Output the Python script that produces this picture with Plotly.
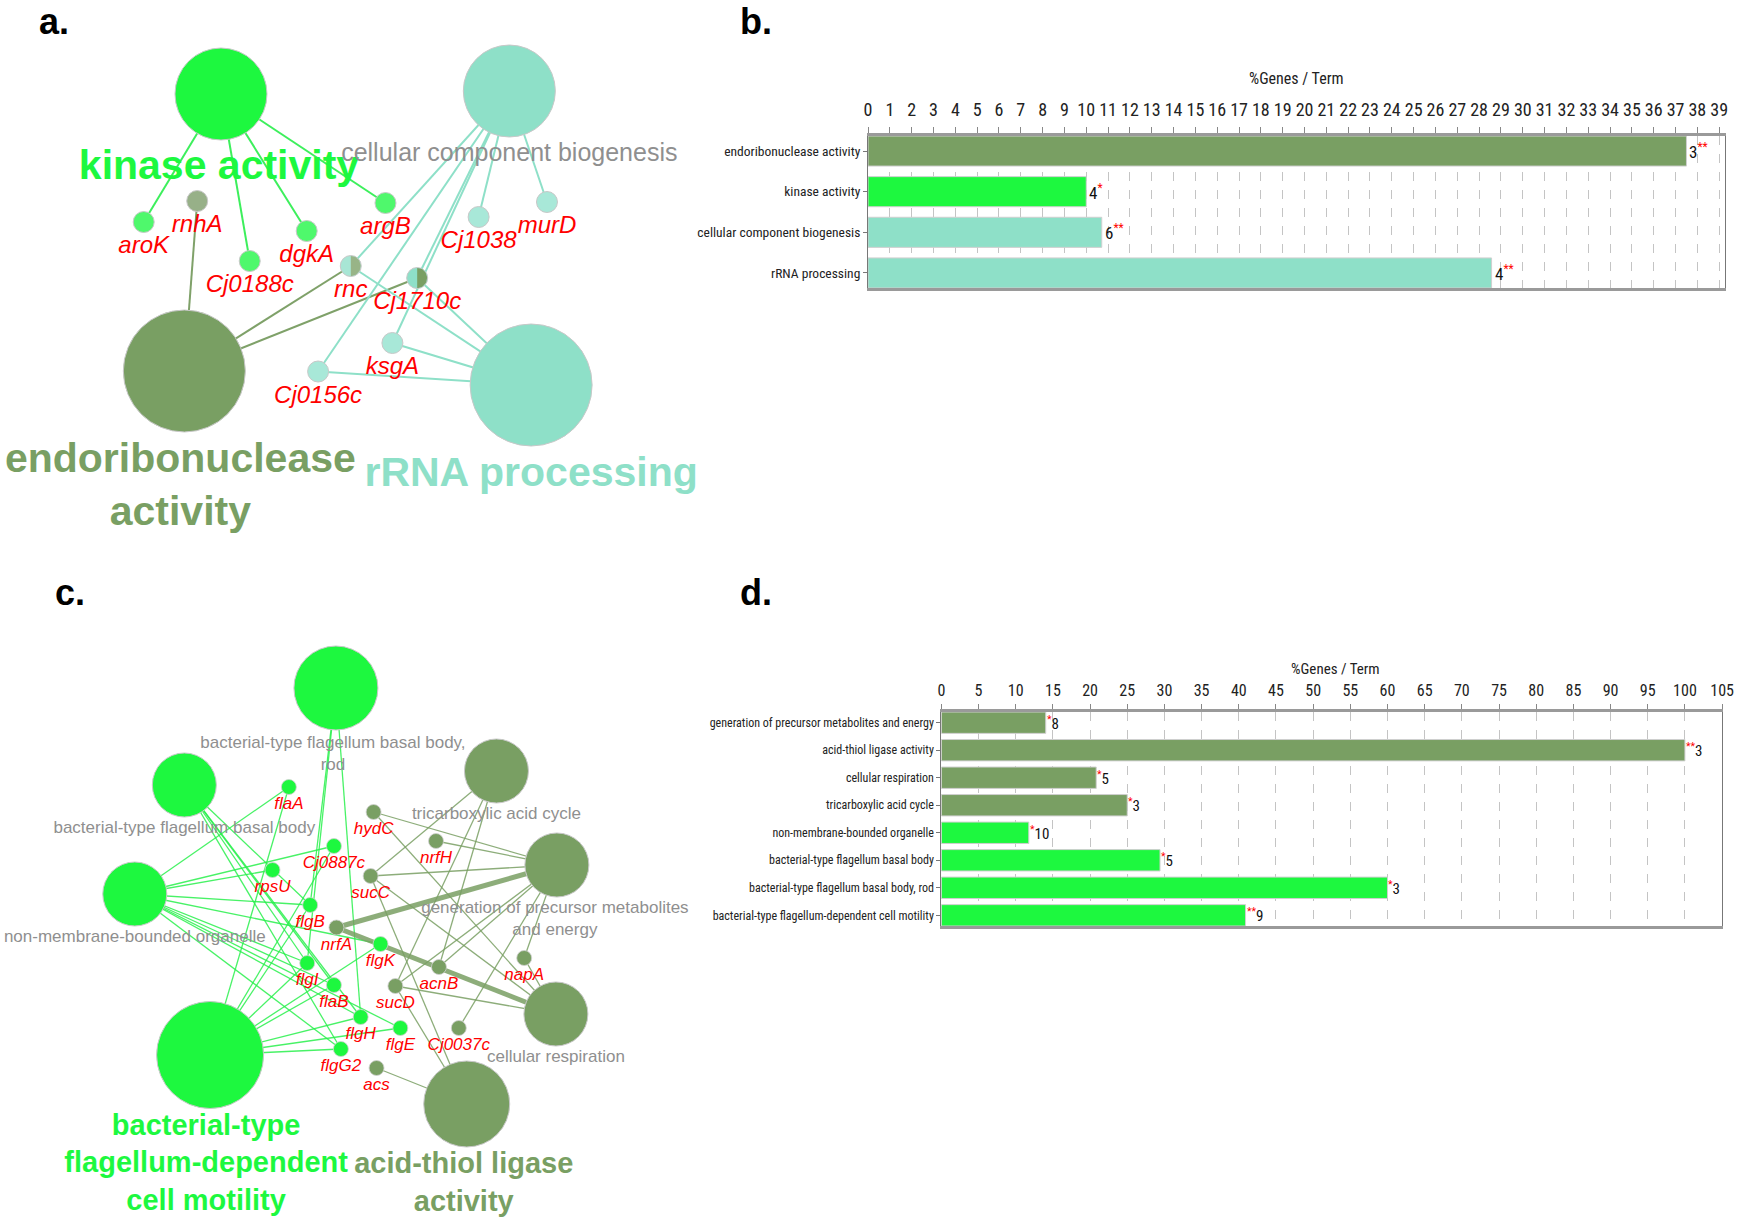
import math
import plotly.graph_objects as go

W, H = 1747, 1219

# ===================== DATA =====================
# ---- panel a : network ----
a_terms = ["kinase activity", "cellular component biogenesis",
           "endoribonuclease activity", "rRNA processing"]
a_term_group = ["green", "aqua", "olive", "aqua"]
a_term_text = ["kinase activity", "cellular component biogenesis",
               "endoribonuclease<br>activity", "rRNA processing"]
a_term_lead = [True, False, True, True]
a_genes = ["aroK", "rnhA", "Cj0188c", "dgkA", "argB", "rnc", "Cj1710c",
           "Cj1038", "murD", "ksgA", "Cj0156c"]
a_links = {
    "kinase activity": ["aroK", "Cj0188c", "dgkA", "argB"],
    "endoribonuclease activity": ["rnhA", "rnc", "Cj1710c"],
    "cellular component biogenesis": ["rnc", "Cj1710c", "Cj1038", "murD", "ksgA", "Cj0156c"],
    "rRNA processing": ["rnc", "Cj1710c", "ksgA", "Cj0156c"],
}
# ---- panel b : bars ----
b_terms = ["endoribonuclease activity", "kinase activity",
           "cellular component biogenesis", "rRNA processing"]
b_pct = [37.5, 10.0, 10.71, 28.57]
b_genes = [3, 4, 6, 4]
b_stars = ["**", "*", "**", "**"]
b_group = ["olive", "green", "aqua", "aqua"]
b_ticks = list(range(0, 40))

# ---- panel c : network ----
c_terms = ["bacterial-type flagellum basal body, rod",
           "bacterial-type flagellum basal body",
           "non-membrane-bounded organelle",
           "bacterial-type flagellum-dependent cell motility",
           "tricarboxylic acid cycle",
           "generation of precursor metabolites and energy",
           "cellular respiration",
           "acid-thiol ligase activity"]
c_term_group = ["green", "green", "green", "green", "olive", "olive", "olive", "olive"]
c_term_text = ["bacterial-type flagellum basal body,<br>rod",
               "bacterial-type flagellum basal body",
               "non-membrane-bounded organelle",
               "bacterial-type<br>flagellum-dependent<br>cell motility",
               "tricarboxylic acid cycle",
               "generation of precursor metabolites<br>and energy",
               "cellular respiration",
               "acid-thiol ligase<br>activity"]
c_term_lead = [False, False, False, True, False, False, False, True]
c_genes = ["flaA", "hydC", "Cj0887c", "nrfH", "rpsU", "sucC", "flgB", "nrfA",
           "flgK", "flgI", "acnB", "napA", "flaB", "sucD", "flgH", "flgE",
           "Cj0037c", "flgG2", "acs"]
c_gene_group = ["green", "olive", "green", "olive", "green", "olive", "green", "olive",
                "green", "green", "olive", "olive", "green", "olive", "green", "green",
                "olive", "green", "olive"]
c_links = {
    "non-membrane-bounded organelle": ["flaA", "rpsU", "Cj0887c", "flgB", "flgK",
                                       "flgI", "flaB", "flgH", "flgE", "flgG2"],
    "bacterial-type flagellum basal body": ["flgB", "flgI", "flaB", "flgH", "flgG2"],
    "bacterial-type flagellum basal body, rod": ["flgB", "flgI", "flgH"],
    "bacterial-type flagellum-dependent cell motility": ["flaA", "Cj0887c", "flgB", "flgK",
                                                         "flgI", "flaB", "flgH", "flgE", "flgG2"],
    "tricarboxylic acid cycle": ["sucC", "acnB", "sucD"],
    "generation of precursor metabolites and energy": ["hydC", "nrfH", "sucC", "nrfA", "acnB",
                                                       "sucD", "napA", "Cj0037c"],
    "cellular respiration": ["hydC", "sucC", "nrfA", "sucD", "napA"],
    "acid-thiol ligase activity": ["sucC", "sucD", "acs"],
}
c_thick = {("generation of precursor metabolites and energy", "nrfA"),
           ("cellular respiration", "nrfA")}

# ---- panel d : bars ----
d_terms = ["generation of precursor metabolites and energy",
           "acid-thiol ligase activity",
           "cellular respiration",
           "tricarboxylic acid cycle",
           "non-membrane-bounded organelle",
           "bacterial-type flagellum basal body",
           "bacterial-type flagellum basal body, rod",
           "bacterial-type flagellum-dependent cell motility"]
d_pct = [14.04, 100.0, 20.83, 25.0, 11.76, 29.41, 60.0, 40.91]
d_genes = [8, 3, 5, 3, 10, 5, 3, 9]
d_stars = ["*", "**", "*", "*", "*", "*", "*", "**"]
d_group = ["olive", "olive", "olive", "olive", "green", "green", "green", "green"]
d_ticks = list(range(0, 110, 5))

# ===================== LAYOUT (pixel positions of network drawings) =====================
a_term_x = [219, 510, 182, 532]
a_term_y = [94, 91, 371, 385]
a_term_lx = [217, 510, 178, 532]
a_term_ly = [169, 155, 488, 476]
a_term_size = [92, 92, 122, 122]
a_gene_x = [141, 195, 248, 305.5, 385, 350, 417, 479, 548, 392, 317]
a_gene_y = [222, 201, 261, 231, 203, 266, 278, 217, 202, 343, 371.5]

c_term_x = [335, 182, 132, 208, 497, 558, 557, 467]
c_term_y = [688, 785, 894, 1055, 771, 865, 1014, 1104]
c_term_lx = [332, 182, 132, 204, 497, 556, 557, 464]
c_term_ly = [755, 829, 938, 1165, 815, 920, 1058, 1185]
c_term_size = [84, 64, 64, 107, 64, 64, 64, 86]
c_gene_x = [287.5, 373, 333, 436, 271, 370, 309, 335.5, 380, 306, 439, 525,
            333, 395, 360, 400, 459, 340, 376]
c_gene_y = [787, 812, 846, 841, 870, 876, 905, 927.5, 944, 963, 967, 958,
            985, 986, 1017, 1028, 1028, 1049, 1068]

# ===================== STYLE =====================
COL = {"green": "#1DF83F", "olive": "#799F63", "aqua": "#8EE0C8"}
A_EDGE = {"green": "#3DEF5C", "olive": "#7FA169", "aqua": "#8EE0C8"}
C_EDGE = {"green": "rgba(40,240,75,0.85)", "olive": "rgba(121,159,99,0.85)"}
A_GENE_FILL = {"aroK": ["#4FF86C"], "rnhA": ["#97B088"], "Cj0188c": ["#4FF86C"],
               "dgkA": ["#4FF86C"], "argB": ["#4FF86C"],
               "rnc": ["#A8E6D5", "#98B487"], "Cj1710c": ["#8EE0C8", "#799F63"],
               "Cj1038": ["#A8E8D8"], "murD": ["#A8E8D8"], "ksgA": ["#A8E8D8"],
               "Cj0156c": ["#A8E8D8"]}
FONT = "Liberation Sans, Arial, Helvetica, sans-serif"
NARROW = "Liberation Sans Narrow, Arial Narrow, Roboto Condensed, DejaVu Sans Condensed, Liberation Sans, sans-serif"
GRAY_TXT = "#8F8F8F"
RED = "#FF0000"

fig = go.Figure()


def add_edges(links, terms, tx, ty, tgroup, genes, gx, gy, colors, width, thick=(), thick_w=5):
    tpos = {t: (tx[i], ty[i], tgroup[i]) for i, t in enumerate(terms)}
    gpos = {g: (gx[i], gy[i]) for i, g in enumerate(genes)}
    groups = {}
    for term, glist in links.items():
        x0, y0, grp = tpos[term]
        for g in glist:
            w = thick_w if (term, g) in thick else width
            xs, ys = groups.setdefault((grp, w), ([], []))
            xs += [x0, gpos[g][0], None]
            ys += [y0, gpos[g][1], None]
    for (grp, w), (xs, ys) in groups.items():
        fig.add_trace(go.Scatter(x=xs, y=ys, mode="lines",
                                 line=dict(color=colors[grp], width=w),
                                 hoverinfo="skip", showlegend=False))


def add_term_nodes(tx, ty, sizes, groups):
    fig.add_trace(go.Scatter(x=tx, y=ty, mode="markers",
                             marker=dict(size=sizes, color=[COL[g] for g in groups],
                                         line=dict(color="#C8C8C8", width=1), opacity=1),
                             hoverinfo="skip", showlegend=False))


def add_labels(lx, ly, texts, size, color, bold=False, italic=False, family=FONT):
    t = list(texts)
    if bold:
        t = ["<b>%s</b>" % s for s in t]
    if italic:
        t = ["<i>%s</i>" % s for s in t]
    fig.add_trace(go.Scatter(x=lx, y=ly, mode="text", text=t, textposition="middle center",
                             textfont=dict(size=size, color=color, family=family),
                             hoverinfo="skip", showlegend=False))


# ---------- panel a ----------
add_edges(a_links, a_terms, a_term_x, a_term_y, a_term_group,
          a_genes, a_gene_x, a_gene_y, A_EDGE, 2)
add_term_nodes(a_term_x, a_term_y, a_term_size, a_term_group)
A_GENE_SIZE = 21
fig.add_trace(go.Scatter(x=a_gene_x, y=a_gene_y, mode="markers",
                         marker=dict(size=A_GENE_SIZE,
                                     color=[A_GENE_FILL[g][0] for g in a_genes],
                                     line=dict(color="#C8C8C8", width=1)),
                         hoverinfo="skip", showlegend=False))
# right halves of split nodes
for i, g in enumerate(a_genes):
    if len(A_GENE_FILL[g]) > 1:
        r = A_GENE_SIZE / 2 - 0.5
        angs = [math.radians(a) for a in range(-90, 91, 6)]
        xs = [a_gene_x[i] + r * math.cos(t) for t in angs]
        ys = [a_gene_y[i] + r * math.sin(t) for t in angs]
        fig.add_trace(go.Scatter(x=xs, y=ys, mode="lines", fill="toself",
                                 fillcolor=A_GENE_FILL[g][1], line=dict(width=0),
                                 hoverinfo="skip", showlegend=False))
for i in range(len(a_terms)):
    if a_term_lead[i]:
        add_labels([a_term_lx[i]], [a_term_ly[i]], [a_term_text[i]], 41,
                   COL[a_term_group[i]], bold=True)
    else:
        add_labels([a_term_lx[i]], [a_term_ly[i]], [a_term_text[i]], 25, GRAY_TXT)
add_labels(a_gene_x, [y + 25 for y in a_gene_y], a_genes, 24, RED, italic=True)

# ---------- panel c ----------
add_edges(c_links, c_terms, c_term_x, c_term_y, c_term_group,
          c_genes, c_gene_x, c_gene_y, C_EDGE, 1.3, thick=c_thick, thick_w=5)
add_term_nodes(c_term_x, c_term_y, c_term_size, c_term_group)
fig.add_trace(go.Scatter(x=c_gene_x, y=c_gene_y, mode="markers",
                         marker=dict(size=15, color=[COL[g] for g in c_gene_group],
                                     line=dict(color="#D0D0D0", width=0.8)),
                         hoverinfo="skip", showlegend=False))
for i in range(len(c_terms)):
    if c_term_lead[i]:
        add_labels([c_term_lx[i]], [c_term_ly[i]], [c_term_text[i]], 29,
                   COL[c_term_group[i]], bold=True)
    else:
        add_labels([c_term_lx[i]], [c_term_ly[i]], [c_term_text[i]], 17, GRAY_TXT)
add_labels(c_gene_x, [y + 18 for y in c_gene_y], c_genes, 17, RED, italic=True)

# ---------- panel b bars ----------
fig.add_trace(go.Bar(x=b_pct, y=b_terms, orientation="h", width=0.74,
                     marker=dict(color=[COL[g] for g in b_group],
                                 line=dict(color="#CFCFCF", width=1)),
                     xaxis="x2", yaxis="y2", hoverinfo="skip", showlegend=False))
# ---------- panel d bars ----------
fig.add_trace(go.Bar(x=d_pct, y=d_terms, orientation="h", width=0.776,
                     marker=dict(color=[COL[g] for g in d_group],
                                 line=dict(color="#CFCFCF", width=1)),
                     xaxis="x3", yaxis="y3", hoverinfo="skip", showlegend=False))

ann = []
for t, p, n, s in zip(b_terms, b_pct, b_genes, b_stars):
    ann.append(dict(x=p, y=t, xref="x2", yref="y2", xanchor="left", yanchor="middle",
                    xshift=1, showarrow=False,
                    text="%d<span style='color:red'><sup>%s</sup></span>" % (n, s),
                    font=dict(family=NARROW, size=17, color="#111")))
for t, p, n, s in zip(d_terms, d_pct, d_genes, d_stars):
    ann.append(dict(x=p, y=t, xref="x3", yref="y3", xanchor="left", yanchor="middle",
                    xshift=-1, showarrow=False,
                    text="<span style='color:red'><sup>%s</sup></span>%d" % (s, n),
                    font=dict(family=NARROW, size=15, color="#111")))
# axis titles
ann.append(dict(x=1304, y=78, xref="x", yref="y", showarrow=False, text="%Genes / Term",
                font=dict(family=NARROW, size=16, color="#222")))
ann.append(dict(x=1344, y=669, xref="x", yref="y", showarrow=False, text="%Genes / Term",
                font=dict(family=NARROW, size=15, color="#222")))
# panel letters
for lab, x, y in [("a.", 50, 21), ("b.", 759, 21), ("c.", 67, 592), ("d.", 759, 592)]:
    ann.append(dict(x=x, y=y, xref="x", yref="y", showarrow=False, text="<b>%s</b>" % lab,
                    font=dict(family=FONT, size=36, color="#000")))

bar_x_common = dict(side="top", showgrid=True, gridcolor="#C4C4C4", griddash="dash",
                    gridwidth=1, showline=True, linecolor="#9A9A9A", linewidth=3,
                    mirror=True, ticks="outside", tickcolor="#888", tickwidth=1,
                    zeroline=False, fixedrange=True, tickmode="array")
bar_y_common = dict(type="category", ticks="outside", ticklen=4, tickcolor="#777",
                    showline=True, linecolor="#777", linewidth=1, mirror=True,
                    showgrid=False, fixedrange=True, categoryorder="array")

fig.update_layout(
    width=W, height=H, margin=dict(l=0, r=0, t=0, b=0),
    paper_bgcolor="white", plot_bgcolor="rgba(0,0,0,0)", showlegend=False,
    annotations=ann,
    xaxis=dict(domain=[0, 1], range=[0, W], visible=False, fixedrange=True),
    yaxis=dict(domain=[0, 1], range=[H, 0], visible=False, fixedrange=True),
    xaxis2=dict(domain=[872 / W, 1737 / W], anchor="y2", range=[0, 39.27],
                tickvals=b_ticks, ticktext=[str(v) for v in b_ticks], ticklen=6,
                ticklabelstandoff=4,
                tickfont=dict(family=NARROW, size=18, color="#222"), **bar_x_common),
    yaxis2=dict(domain=[1 - 288 / H, 1 - 136 / H], anchor="x2",
                categoryarray=b_terms, range=[len(b_terms) - 1 + 0.37, -0.37],
                tickfont=dict(family=NARROW, size=13.5, color="#222"), **bar_y_common),
    xaxis3=dict(domain=[946 / W, 1734 / W], anchor="y3", range=[0, 105],
                tickvals=d_ticks, ticktext=[str(v) for v in d_ticks], ticklen=5,
                ticklabelstandoff=2,
                tickfont=dict(family=NARROW, size=16, color="#222"), **bar_x_common),
    yaxis3=dict(domain=[1 - 926 / H, 1 - 712 / H], anchor="x3",
                categoryarray=d_terms, range=[len(d_terms) - 1 + 0.388, -0.388],
                tickfont=dict(family=NARROW, size=12, color="#222"), **bar_y_common),
)

fig.write_html("out.html", config={"displayModeBar": False},
               post_script="document.body.style.margin='0';document.body.style.overflow='hidden';")
